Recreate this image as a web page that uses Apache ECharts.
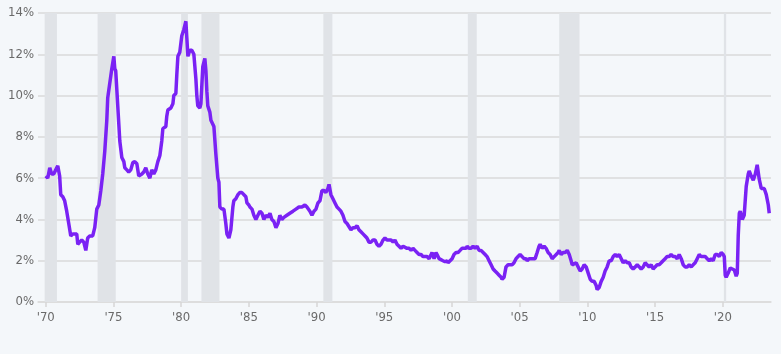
<!DOCTYPE html>
<html lang="en">
<head>
<meta charset="UTF-8">
<title>Core inflation</title>
<script src="https://cdn.jsdelivr.net/npm/echarts@6/dist/echarts.min.js"></script>
<style>
  html, body { margin: 0; padding: 0; background: #f4f7fa; }
  #main { width: 781px; height: 354px; }
</style>
</head>
<body>
<div id="main"></div>
<script>
// decimal years
var years = [
  1970.00, 1970.15, 1970.30, 1970.44, 1970.59, 1970.74, 1970.89, 1971.03, 1971.11, 1971.26,
  1971.40, 1971.55, 1971.70, 1971.85, 1972.00, 1972.14, 1972.29, 1972.37, 1972.51, 1972.66,
  1972.81, 1972.96, 1973.10, 1973.25, 1973.47, 1973.62, 1973.77, 1973.92, 1974.07, 1974.21,
  1974.36, 1974.51, 1974.58, 1974.73, 1974.88, 1975.03, 1975.10, 1975.17, 1975.32, 1975.47,
  1975.62, 1975.77, 1975.84, 1975.99, 1976.13, 1976.28, 1976.43, 1976.58, 1976.73, 1976.87,
  1977.10, 1977.24, 1977.39, 1977.54, 1977.69, 1977.83, 1977.98, 1978.13, 1978.28, 1978.43,
  1978.57, 1978.65, 1978.87, 1978.94, 1979.02, 1979.24, 1979.39, 1979.46, 1979.61, 1979.68,
  1979.76, 1979.90, 1980.05, 1980.20, 1980.35, 1980.42, 1980.50, 1980.64, 1980.79, 1980.94,
  1981.09, 1981.16, 1981.23, 1981.38, 1981.46, 1981.60, 1981.75, 1981.83, 1981.90, 1981.97,
  1982.12, 1982.20, 1982.34, 1982.42, 1982.56, 1982.71, 1982.79, 1982.86, 1983.01, 1983.16,
  1983.30, 1983.38, 1983.53, 1983.67, 1983.82, 1983.89, 1984.04, 1984.19, 1984.34, 1984.49,
  1984.63, 1984.78, 1984.86, 1985.00, 1985.08, 1985.23, 1985.37, 1985.52, 1985.67, 1985.82,
  1985.97, 1986.11, 1986.26, 1986.41, 1986.56, 1986.70, 1986.85, 1987.00, 1987.15, 1987.29,
  1987.44, 1987.59, 1987.81, 1988.03, 1988.26, 1988.48, 1988.70, 1988.92, 1989.14, 1989.29,
  1989.51, 1989.66, 1989.81, 1989.96, 1990.10, 1990.25, 1990.40, 1990.55, 1990.69, 1990.84,
  1990.92, 1991.06, 1991.21, 1991.36, 1991.51, 1991.66, 1991.80, 1991.95, 1992.10, 1992.25,
  1992.39, 1992.54, 1992.69, 1992.84, 1992.99, 1993.13, 1993.28, 1993.43, 1993.58, 1993.72,
  1993.87, 1994.02, 1994.17, 1994.32, 1994.46, 1994.61, 1994.76, 1994.91, 1995.05, 1995.20,
  1995.35, 1995.50, 1995.65, 1995.79, 1995.94, 1996.09, 1996.24, 1996.39, 1996.53, 1996.68,
  1996.83, 1996.98, 1997.12, 1997.27, 1997.42, 1997.57, 1997.72, 1997.86, 1998.01, 1998.16,
  1998.31, 1998.46, 1998.53, 1998.68, 1998.82, 1998.90, 1999.05, 1999.19, 1999.34, 1999.49,
  1999.64, 1999.71, 1999.86, 2000.01, 2000.15, 2000.30, 2000.45, 2000.60, 2000.74, 2000.89,
  2001.04, 2001.12, 2001.26, 2001.41, 2001.56, 2001.71, 2001.86, 2002.00, 2002.15, 2002.30,
  2002.45, 2002.59, 2002.74, 2002.89, 2003.04, 2003.18, 2003.33, 2003.48, 2003.63, 2003.70,
  2003.85, 2003.99, 2004.14, 2004.29, 2004.44, 2004.58, 2004.73, 2004.88, 2005.03, 2005.17,
  2005.32, 2005.47, 2005.55, 2005.70, 2005.84, 2005.99, 2006.14, 2006.29, 2006.43, 2006.51,
  2006.66, 2006.81, 2006.95, 2007.10, 2007.25, 2007.40, 2007.55, 2007.69, 2007.84, 2007.92,
  2008.06, 2008.21, 2008.36, 2008.51, 2008.66, 2008.80, 2008.88, 2009.02, 2009.17, 2009.32,
  2009.47, 2009.61, 2009.76, 2009.91, 2010.06, 2010.21, 2010.35, 2010.50, 2010.65, 2010.72,
  2010.87, 2011.02, 2011.17, 2011.31, 2011.46, 2011.61, 2011.76, 2011.91, 2012.06, 2012.20,
  2012.35, 2012.50, 2012.64, 2012.79, 2012.94, 2013.09, 2013.23, 2013.38, 2013.53, 2013.68,
  2013.83, 2013.97, 2014.12, 2014.27, 2014.41, 2014.56, 2014.71, 2014.86, 2015.00, 2015.15,
  2015.30, 2015.45, 2015.59, 2015.74, 2015.89, 2016.04, 2016.18, 2016.33, 2016.48, 2016.63,
  2016.78, 2016.93, 2017.08, 2017.22, 2017.37, 2017.52, 2017.67, 2017.81, 2017.96, 2018.11,
  2018.26, 2018.40, 2018.55, 2018.70, 2018.85, 2019.00, 2019.15, 2019.29, 2019.44, 2019.59,
  2019.74, 2019.88, 2020.03, 2020.11, 2020.18, 2020.25, 2020.40, 2020.55, 2020.70, 2020.85,
  2020.99, 2021.07, 2021.14, 2021.22, 2021.29, 2021.44, 2021.58, 2021.73, 2021.88, 2021.95,
  2022.10, 2022.25, 2022.40, 2022.54, 2022.69, 2022.84, 2023.06, 2023.21, 2023.36, 2023.43
];

// year-over-year rate, %
var rates = [
  6.1, 6.0, 6.5, 6.2, 6.2, 6.4, 6.6, 6.1, 5.2, 5.1,
  4.9, 4.4, 3.8, 3.2, 3.3, 3.3, 3.3, 2.8, 2.9, 3.0,
  2.9, 2.5, 3.1, 3.2, 3.2, 3.6, 4.5, 4.7, 5.4, 6.2,
  7.3, 8.8, 9.9, 10.6, 11.3, 11.9, 11.3, 11.2, 9.5, 7.8,
  7.0, 6.8, 6.5, 6.4, 6.3, 6.4, 6.75, 6.8, 6.7, 6.1,
  6.2, 6.3, 6.5, 6.2, 6.0, 6.4, 6.2, 6.4, 6.8, 7.1,
  7.8, 8.4, 8.5, 9.0, 9.3, 9.4, 9.6, 10.0, 10.1, 11.0,
  11.9, 12.1, 12.9, 13.2, 13.6, 12.8, 11.9, 12.2, 12.2, 12.0,
  10.8, 10.0, 9.5, 9.4, 9.6, 11.4, 11.8, 11.2, 10.2, 9.5,
  9.2, 8.8, 8.8, 8.5, 7.2, 6.0, 5.8, 4.6, 4.5, 4.5,
  3.8, 3.3, 3.1, 3.5, 4.6, 4.9, 5.0, 5.2, 5.3, 5.3,
  5.3, 5.1, 4.8, 4.7, 4.6, 4.5, 4.2, 4.0, 4.2, 4.4,
  4.3, 4.0, 4.2, 4.1, 4.3, 4.0, 3.9, 3.6, 3.8, 4.2,
  4.0, 4.1, 4.2, 4.3, 4.4, 4.5, 4.6, 4.6, 4.7, 4.6,
  4.4, 4.2, 4.4, 4.5, 4.8, 4.9, 5.4, 5.4, 5.3, 5.5,
  5.7, 5.2, 5.0, 4.8, 4.6, 4.5, 4.4, 4.2, 3.9, 3.8,
  3.8, 3.5, 3.6, 3.6, 3.7, 3.5, 3.4, 3.3, 3.2, 3.1,
  2.9, 2.9, 3.0, 3.0, 2.8, 2.7, 2.8, 3.0, 3.1, 3.0,
  3.0, 3.0, 2.9, 3.0, 2.8, 2.7, 2.6, 2.7, 2.7, 2.6,
  2.6, 2.5, 2.6, 2.5, 2.4, 2.3, 2.3, 2.2, 2.2, 2.2,
  2.1, 2.3, 2.4, 2.1, 2.4, 2.3, 2.1, 2.1, 2.0, 1.95,
  2.0, 1.9, 2.0, 2.1, 2.3, 2.4, 2.4, 2.5, 2.6, 2.6,
  2.6, 2.7, 2.6, 2.6, 2.7, 2.6, 2.7, 2.5, 2.5, 2.4,
  2.3, 2.2, 2.0, 1.8, 1.6, 1.5, 1.4, 1.3, 1.2, 1.1,
  1.2, 1.7, 1.8, 1.8, 1.8, 1.9, 2.1, 2.2, 2.3, 2.3,
  2.1, 2.1, 2.0, 2.1, 2.1, 2.1, 2.1, 2.4, 2.7, 2.8,
  2.6, 2.7, 2.6, 2.4, 2.3, 2.1, 2.2, 2.2, 2.4, 2.5,
  2.3, 2.4, 2.4, 2.5, 2.3, 2.0, 1.8, 1.8, 1.9, 1.7,
  1.5, 1.6, 1.8, 1.7, 1.4, 1.1, 1.0, 1.0, 0.8, 0.6,
  0.7, 1.0, 1.2, 1.5, 1.7, 2.0, 2.0, 2.2, 2.3, 2.2,
  2.3, 2.1, 1.9, 2.0, 1.9, 1.9, 1.7, 1.6, 1.7, 1.8,
  1.7, 1.6, 1.7, 1.9, 1.8, 1.7, 1.8, 1.6, 1.7, 1.8,
  1.8, 1.9, 2.0, 2.1, 2.2, 2.2, 2.3, 2.2, 2.2, 2.1,
  2.3, 2.1, 1.8, 1.7, 1.7, 1.8, 1.7, 1.8, 1.9, 2.1,
  2.3, 2.2, 2.2, 2.2, 2.1, 2.0, 2.1, 2.0, 2.3, 2.3,
  2.2, 2.4, 2.3, 2.2, 1.3, 1.2, 1.4, 1.65, 1.6, 1.55,
  1.25, 1.4, 3.2, 4.3, 4.4, 4.0, 4.2, 5.6, 6.2, 6.35,
  6.1, 5.9, 6.2, 6.65, 5.95, 5.5, 5.5, 5.2, 4.7, 4.3
];

// recession periods (start, end) in decimal years
var recessions = [
  [1969.92, 1970.83], [1973.83, 1975.17], [1980.0, 1980.5], [1981.5, 1982.83],
  [1990.5, 1991.17], [2001.17, 2001.83], [2007.92, 2009.42], [2020.08, 2020.25]
];

var yearTicks = [1970, 1975, 1980, 1985, 1990, 1995, 2000, 2005, 2010, 2015, 2020];

var points = [];
for (var i = 0; i < years.length; i++) {
  points.push([years[i], rates[i]]);
}
var bands = [];
for (var j = 0; j < recessions.length; j++) {
  bands.push([{ xAxis: recessions[j][0] }, { xAxis: recessions[j][1] }]);
}

var labelFont = "'Liberation Sans Narrow', 'DejaVu Sans Condensed', sans-serif";

var chart = echarts.init(document.getElementById('main'));
chart.setOption({
  backgroundColor: '#f4f7fa',
  animation: false,
  grid: { left: 38, right: 10, top: 13, bottom: 52 },
  xAxis: {
    type: 'value',
    min: 1969.43,
    max: 2023.56,
    splitLine: { show: false },
    axisLine: { lineStyle: { color: '#dcdcdc', width: 1.5 } },
    axisTick: { customValues: yearTicks, length: 5, lineStyle: { color: '#d6d6d6', width: 1.5 } },
    axisLabel: {
      customValues: yearTicks,
      margin: 9,
      color: '#6a6a6a',
      fontSize: 13,
      fontFamily: labelFont,
      formatter: function (v) { return "'" + String(v).slice(2); }
    }
  },
  yAxis: {
    type: 'value',
    min: 0,
    max: 14,
    interval: 2,
    axisLine: { show: false },
    axisTick: { show: false },
    splitLine: { lineStyle: { color: '#dadada', width: 1.5 } },
    axisLabel: {
      margin: 4,
      color: '#6a6a6a',
      fontSize: 13,
      fontFamily: labelFont,
      formatter: '{value}%'
    }
  },
  series: [{
    type: 'line',
    data: points,
    showSymbol: false,
    lineStyle: { color: '#7a22f4', width: 3.5 },
    markArea: {
      silent: true,
      itemStyle: { color: '#e0e3e7' },
      data: bands
    }
  }]
});
</script>
</body>
</html>
